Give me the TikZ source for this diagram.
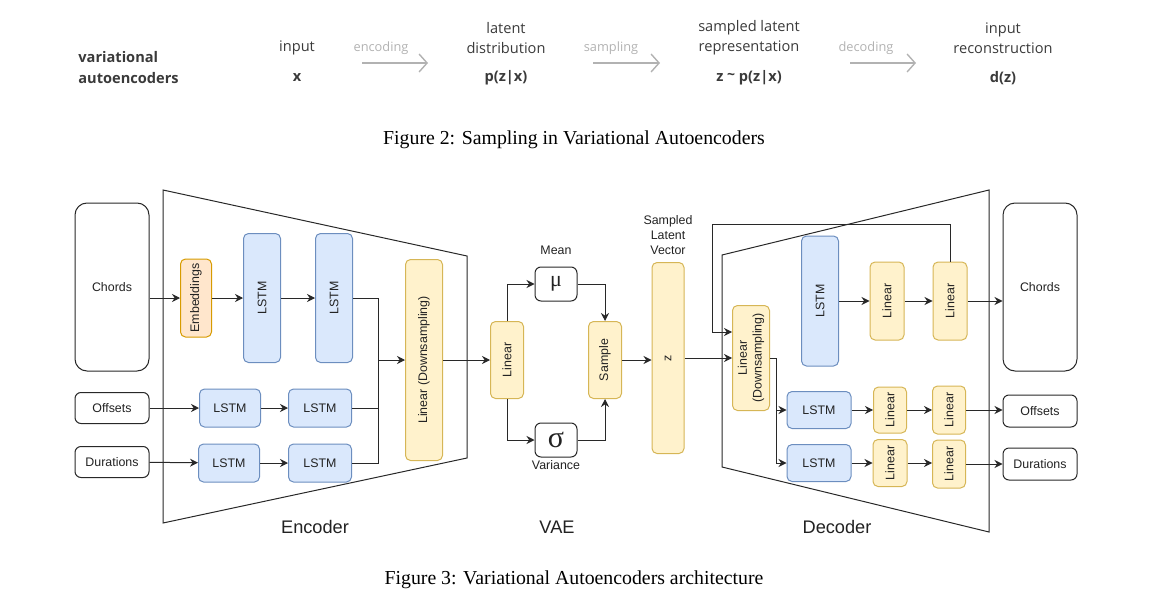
\documentclass[tikz,border=0pt]{standalone}
\usepackage{fontspec}
\setmainfont{Liberation Serif}
\newfontfamily\diagfont{Liberation Sans}
\newfontfamily\topfont{Open Sans}
\newfontfamily\greekfont{Liberation Serif}
\usetikzlibrary{arrows.meta,positioning,calc}
\definecolor{line1}{RGB}{40,40,40}
\definecolor{txt1}{RGB}{34,34,34}
\definecolor{toptxt}{RGB}{58,58,58}
\definecolor{gray1}{RGB}{178,178,178}
\definecolor{lstmfill}{HTML}{DAE8FC}
\definecolor{lstmdraw}{HTML}{6C8EBF}
\definecolor{linfill}{HTML}{FFF2CC}
\definecolor{lindraw}{HTML}{D6B656}
\definecolor{embfill}{HTML}{FFE6CC}
\definecolor{embdraw}{HTML}{D79B00}
\newcommand{\boxfont}{\diagfont\fontsize{6.2}{7.4}\selectfont}
\newcommand{\topfnt}{\topfont\fontsize{7.3}{10}\selectfont}

\begin{document}
\begin{tikzpicture}[x=0.5pt, y=-0.5pt,
    iobox/.style={draw=line1, fill=white, line width=0.5pt, rounded corners=3pt, inner sep=0pt, font=\boxfont, text=txt1, minimum width=37pt, minimum height=15.5pt},
    lstm/.style={draw=lstmdraw, fill=lstmfill, line width=0.5pt, rounded corners=2.5pt, inner sep=0pt, font=\boxfont, text=txt1},
    lin/.style={draw=lindraw, fill=linfill, line width=0.5pt, rounded corners=2.5pt, inner sep=0pt, font=\boxfont, text=txt1},
    emb/.style={draw=embdraw, fill=embfill, line width=0.5pt, rounded corners=2.5pt, inner sep=0pt, font=\boxfont, text=txt1},
    greekbox/.style={draw=line1, fill=white, line width=0.5pt, rounded corners=3pt, inner sep=0pt, text=txt1, minimum width=21pt, minimum height=17pt},
    arr/.style={-{Stealth[length=4pt,width=4pt]}, line width=0.5pt, draw=line1},
    wire/.style={line width=0.5pt, draw=line1},
    toparr/.style={-{Straight Barb[length=4pt,width=9pt]}, line width=0.7pt, draw=gray1},
    toptext/.style={font=\topfnt, text=toptxt, align=center, inner sep=0pt},
    partlabel/.style={font=\diagfont\fontsize{9.1}{11}\selectfont, text=txt1},
    caption/.style={font=\fontsize{9.9}{12}\selectfont, text=black}
]
\useasboundingbox (0,0) rectangle (1150,610);

% ---- Figure 2: sampling overview
\node[toptext, align=left, anchor=west, font=\topfont\bfseries\fontsize{7.3}{10.5}\selectfont, name=vaeT] at(78,68) {variational\\autoencoders};
\node[toptext, name=inT] at(297,48) {input};
\node[toptext, font=\topfont\bfseries\fontsize{7.3}{10}\selectfont, name=inX] at(297,78) {x};
\node[toptext, name=latT] at(506,38) {latent\\distribution};
\node[toptext, font=\topfont\bfseries\fontsize{7.3}{10}\selectfont, name=latX] at(506,78) {p(z|x)};
\node[toptext, name=smpT] at(749,38) {sampled latent\\representation};
\node[toptext, font=\topfont\bfseries\fontsize{7.3}{10}\selectfont, name=smpX] at(749,78) {z \raisebox{0.3ex}{\scriptsize\textasciitilde} p(z|x)};
\node[toptext, name=recT] at(1003,38) {input\\reconstruction};
\node[toptext, font=\topfont\bfseries\fontsize{7.3}{10}\selectfont, name=recX] at(1003,78) {d(z)};

\node[toptext, text=gray1, font=\topfont\fontsize{6.4}{8}\selectfont, name=encW] at(381,48) {encoding};
\node[toptext, text=gray1, font=\topfont\fontsize{6.4}{8}\selectfont, name=smpW] at(611,48) {sampling};
\node[toptext, text=gray1, font=\topfont\fontsize{6.4}{8}\selectfont, name=decW] at(866,48) {decoding};
\coordinate (encA) at(362,63); \coordinate (encB) at(428,63);
\coordinate (smpA) at(593,63); \coordinate (smpB) at(660,63);
\coordinate (decA) at(850,63); \coordinate (decB) at(916,63);
\draw[toparr] (encA) -- (encB);
\draw[toparr] (smpA) -- (smpB);
\draw[toparr] (decA) -- (decB);

\node[caption, name=cap2] at(574,140) {Figure 2: Sampling in Variational Autoencoders};

% ---- Figure 3: architecture
\draw[wire] (163,190) -- (467,256) -- (467,458) -- (163,523) -- cycle;
\draw[wire] (722,255) -- (989,190) -- (989,532) -- (722,467) -- cycle;

% encoder
\node[iobox, rounded corners=6pt, minimum height=84pt, name=chIn] at(112,287) {Chords};
\node[iobox, name=offIn] at(112,408) {Offsets};
\node[iobox, name=durIn] at(112,462) {Durations};

\node[emb, rotate=90, minimum width=39pt, minimum height=15.5pt, name=embE] at(196,298) {Embeddings};
\node[lstm, rotate=90, minimum width=64.5pt, minimum height=18.5pt, name=encL1] at(262,298) {LSTM};
\node[lstm, rotate=90, minimum width=64.5pt, minimum height=18.5pt, name=encL2] at(334,298) {LSTM};
\node[lstm, minimum width=30.5pt, minimum height=19pt, name=offL1] at(230,408) {LSTM};
\node[lstm, minimum width=31.5pt, minimum height=19pt, name=offL2] at(320,408) {LSTM};
\node[lstm, minimum width=30.5pt, minimum height=19pt, name=durL1] at(229,463) {LSTM};
\node[lstm, minimum width=31.5pt, minimum height=19pt, name=durL2] at(320,463) {LSTM};
\node[lin, rotate=90, minimum width=100.5pt, minimum height=18.5pt, name=encLin] at(424,360) {Linear (Downsampling)};
\coordinate (mergeE) at(378,360);

% vae
\node[lin, rotate=90, minimum width=38.5pt, minimum height=16.5pt, name=vaeLin] at(507,360) {Linear};
\node[greekbox, font=\greekfont\fontsize{11}{11}\selectfont, name=mu] at(556,284) {μ};
\node[greekbox, font=\greekfont\fontsize{15}{15}\selectfont, name=sig] at(556,440) {σ};
\node[font=\boxfont, text=txt1, name=meanT] at(556,250) {Mean};
\node[font=\boxfont, text=txt1, name=varT] at(556,465) {Variance};
\node[lin, rotate=90, minimum width=38.5pt, minimum height=16.5pt, name=smpl] at(605,360) {Sample};
\node[lin, rotate=90, minimum width=95.5pt, minimum height=16pt, name=zvec] at(668,358) {z};
\node[font=\boxfont, text=txt1, align=center, name=zT] at(668,235) {Sampled\\Latent\\Vector};

% decoder
\node[lin, rotate=90, align=center, minimum width=52.5pt, minimum height=18.5pt, name=decLin] at(751,358) {Linear\\(Downsampling)};
\node[lstm, rotate=90, minimum width=65pt, minimum height=18.5pt, name=decLc] at(820,301) {LSTM};
\node[lin, rotate=90, minimum width=39pt, minimum height=17pt, name=c1] at(887,301) {Linear};
\node[lin, rotate=90, minimum width=39pt, minimum height=17pt, name=c2] at(950,301) {Linear};
\node[lstm, minimum width=32pt, minimum height=18.5pt, name=decLo] at(819,410) {LSTM};
\node[lstm, minimum width=32pt, minimum height=18.5pt, name=decLd] at(819,463) {LSTM};
\node[lin, rotate=90, minimum width=23pt, minimum height=16.5pt, name=o1] at(890,410) {Linear};
\node[lin, rotate=90, minimum width=24pt, minimum height=16.5pt, name=o2] at(949,410) {Linear};
\node[lin, rotate=90, minimum width=23.5pt, minimum height=17pt, name=d1] at(890,463) {Linear};
\node[lin, rotate=90, minimum width=24pt, minimum height=16.5pt, name=d2] at(949,464) {Linear};
\node[iobox, rounded corners=6pt, minimum height=84pt, name=chOut] at(1040,287) {Chords};
\node[iobox, minimum height=16pt, name=offOut] at(1040,411) {Offsets};
\node[iobox, minimum height=16pt, name=durOut] at(1040,464) {Durations};
\coordinate (fbTop) at(712,224);
\coordinate (splitD) at(776,358);

\node[partlabel, name=encLab] at(315,527) {Encoder};
\node[partlabel, name=vaeLab] at(557,527) {VAE};
\node[partlabel, name=decLab] at(837,527) {Decoder};

% encoder wires
\draw[arr] (chIn.east |- embE.center) -- (embE);
\draw[arr] (embE) -- (encL1);
\draw[arr] (encL1) -- (encL2);
\draw[arr] (offIn) -- (offL1);
\draw[arr] (offL1) -- (offL2);
\draw[arr] (durIn) -- (durL1);
\draw[arr] (durL1) -- (durL2);
\draw[wire] (encL2) -| (mergeE);
\draw[wire] (offL2) -| (mergeE);
\draw[wire] (durL2) -| (mergeE);
\draw[arr] (mergeE) -- (encLin);
\draw[arr] (encLin) -- (vaeLin);

% vae wires
\draw[arr] (vaeLin.east) |- (mu);
\draw[arr] (vaeLin.west) |- (sig);
\draw[arr] (mu) -| (smpl.east);
\draw[arr] (sig) -| (smpl.west);
\draw[arr] (smpl) -- (smpl.south -| zvec.north);
\draw[arr] (zvec) -- (decLin);

% decoder wires
\draw[arr] (c2.east) |- (fbTop) |- ([yshift=13pt]decLin.north);
\draw[wire] (decLin.south |- splitD) -- (splitD);
\draw[arr] (splitD) |- (decLo);
\draw[arr] (splitD) |- (decLd);
\draw[arr] (decLc) -- (c1);
\draw[arr] (c1) -- (c2);
\draw[arr] (c2.south) -- (c2.south -| chOut.west);
\draw[arr] (decLo) -- (o1);
\draw[arr] (o1) -- (o2);
\draw[arr] (o2) -- (o2 -| offOut.west);
\draw[arr] (decLd) -- (d1);
\draw[arr] (d1) -- (d1 -| d2.north);
\draw[arr] (d2.south |- durOut.west) -- (durOut.west);

\node[caption, name=cap3] at(574,580) {Figure 3: Variational Autoencoders architecture};
\end{tikzpicture}
\end{document}
